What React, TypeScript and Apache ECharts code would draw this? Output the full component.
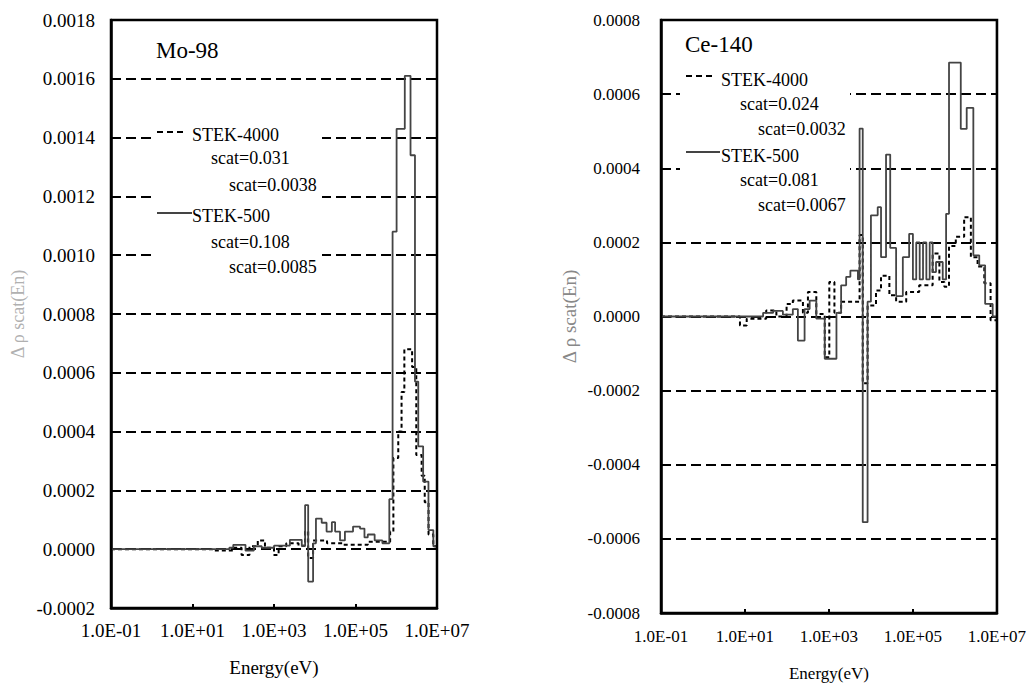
import React, { useEffect, useRef } from "react";
import * as echarts from "echarts";

// ---------- Data ----------
// Mo-98 (left panel): group lower-boundary energies (eV) and step values
const moStek500E = [0.1, 80, 100, 200, 320, 500, 1000, 2450, 4800, 5800, 6900, 9100, 10700, 14800, 19500, 26300, 31600, 41700, 55000, 87000, 129000, 166000, 200000, 295000, 457000, 676000, 813000, 1020000, 1620000, 2240000, 2880000, 3470000, 4570000, 6170000, 8130000];
const moStek500V = [0, 0.000005, 0.000015, -0.000005, 0.00001, 0.000005, 0.000012, 0.000032, 0.000012, 0.00015, -0.00011, 0.00002, 0.000104, 0.00009, 0.00006, 0.000092, 0.00006, 0.00003, 0.00006, 0.000077, 0.00007, 0.00004, 0.00005, 0.00003, 0.00002, 0.00017, 0.00108, 0.00143, 0.00161, 0.00134, 0.00057, 0.00035, 0.00023, 0.000065, 0.00001];
const moStek4000E = [0.1, 30, 100, 160, 250, 400, 600, 1000, 1300, 2000, 4000, 5800, 6900, 9100, 20000, 50000, 200000, 708000, 850000, 1120000, 1350000, 1580000, 2450000, 3100000, 4200000, 5000000, 6200000, 8100000];
const moStek4000V = [0, -0.000004, 0.000005, -0.00002, 0.00001, 0.00003, 0.000005, -0.00002, 0.00001, 0.00002, 0.000012, 0.00006, -0.00003, 0.00003, 0.00002, 0.000015, 0.000025, 0.00006, 0.00031, 0.0004, 0.000535, 0.00068, 0.00062, 0.00032, 0.00025, 0.00016, 0.00005, 0.00001];

// Ce-140 (right panel)
const ceStek500E = [0.1, 27, 47, 80, 138, 182, 263, 347, 500, 794, 1510, 1950, 2570, 3240, 4900, 5370, 6380, 8320, 10000, 14500, 17400, 22900, 28800, 39800, 57500, 81300, 100000, 120000, 145000, 174000, 209000, 251000, 295000, 355000, 513000, 617000, 724000, 1380000, 1910000, 2750000, 3800000, 5250000, 7940000];
const ceStek500V = [0, 0.00001, 0.000015, 0.000005, 0.00002, -0.000065, 0.00002, 0.000043, -0.000006, -0.000114, 0.00001, 0.000084, 0.000107, 0.000124, 0.0001, 0.000507, -0.000555, 0.00004, 0.000273, 0.000295, 0.00016, 0.000437, 0.000185, 0.000055, 0.00016, 0.000223, 0.0001, 0.0002, 0.0001, 0.0002, 0.0001, 0.0002, 0.00012, 0.000147, 0.0001, 0.000277, 0.000685, 0.000506, 0.000563, 0.000165, 0.000138, 0.000034, 0.0];
const ceStek4000E = [0.1, 7.6, 11, 32, 56, 98, 138, 240, 316, 500, 794, 1020, 1350, 1950, 5370, 6380, 8320, 13200, 17400, 27500, 39800, 69200, 141000, 295000, 427000, 562000, 724000, 1050000, 1660000, 2400000, 3470000, 5010000, 7080000];
const ceStek4000V = [0, -0.000024, -0.000006, 0.000016, 0.0, 0.000034, 0.000043, 0.00001, 0.000066, 0.000007, -0.00011, 0.000093, 0.00001, 0.00004, 0.00022, -0.00018, 0.00003, 0.00007, 0.00011, 0.000057, 0.00004, 0.000066, 0.000084, 0.00017, 0.000093, 0.00008, 0.00019, 0.000215, 0.000268, 0.00016, 0.000135, 0.00009, -0.00001];

const xTickLabels = ["1.0E-01", "1.0E+01", "1.0E+03", "1.0E+05", "1.0E+07"];
const moLegend = ["STEK-4000", "scat=0.031", "scat=0.0038", "STEK-500", "scat=0.108", "scat=0.0085"];
const ceLegend = ["STEK-4000", "scat=0.024", "scat=0.0032", "STEK-500", "scat=0.081", "scat=0.0067"];
const panelTitles = ["Mo-98", "Ce-140"];
const yTitle = "Δ ρ scat(En)";
const xTitle = "Energy(eV)";

const E_MAX = 1e7;
const FONT = "Liberation Serif";

function steps(E: number[], V: number[]) {
  const d: number[][] = E.map((e, i) => [e, V[i]]);
  d.push([E_MAX, V[V.length - 1]]);
  return d;
}

function logLabel(v: number) {
  const p = Math.round(Math.log10(v));
  const idx = (p + 1) / 2;
  if (Number.isInteger(idx) && idx >= 0 && idx < xTickLabels.length) return xTickLabels[idx];
  return "";
}

const GRIDS = [
  { left: 111, top: 20, width: 326, height: 588 },
  { left: 661, top: 20, width: 336, height: 593 },
];

export default function App() {
  const ref = useRef<HTMLDivElement>(null);
  useEffect(() => {
    if (!ref.current) return;
    const chart = echarts.init(ref.current, null, { renderer: "svg" });
    const split = { show: true, lineStyle: { color: "#000", width: 1.8, type: [10, 5] } };
    const axLine = () => ({ show: true, onZero: false, lineStyle: { color: "#000", width: 2.5 } });
    const makeX = (gi: number, fs: number, gap: number, margin: number) => [
      {
        type: "log", gridIndex: gi, logBase: 10, min: 0.1, max: E_MAX,
        axisLine: axLine(), axisTick: { show: false }, splitLine: { show: false },
        axisLabel: { formatter: logLabel, color: "#000", fontFamily: FONT, fontSize: fs, margin, showMinLabel: true, showMaxLabel: true },
        name: xTitle, nameLocation: "middle", nameGap: gap,
        nameTextStyle: { color: "#000", fontFamily: FONT, fontSize: fs },
      },
      {
        type: "value", gridIndex: gi, position: "bottom", min: 0, max: 8, interval: 2,
        axisLine: { show: false, onZero: false },
        axisTick: { show: true, inside: true, length: 4, lineStyle: { color: "#000", width: 2 } },
        axisLabel: { show: false }, splitLine: { show: false },
      },
    ];
    const makeY = (gi: number, min: number, max: number, fs: number, margin: number, nameGap: number, nameColor: string, nameSize: number) => ({
      type: "value", gridIndex: gi, min, max, interval: 0.0002,
      axisLine: axLine(), axisTick: { show: false }, splitLine: split,
      axisLabel: { formatter: (v: number) => v.toFixed(4), color: "#000", fontFamily: FONT, fontSize: fs, margin },
      name: yTitle, nameLocation: "middle", nameRotate: 90, nameGap,
      nameTextStyle: { color: nameColor, fontFamily: FONT, fontSize: nameSize },
    });
    const solid = { color: "#444", width: 1.8, type: "solid" };
    const dashed = { color: "#000", width: 2, type: [4, 3] };
    const ser = (name: string, data: number[][], xi: number, yi: number, ls: any) => ({
      name, type: "line", step: "end", data, xAxisIndex: xi, yAxisIndex: yi,
      symbol: "none", lineStyle: ls, z: 3,
    });

    const frame = (g: any) => ({
      type: "rect", silent: true, z: 20,
      shape: { x: g.left, y: g.top, width: g.width, height: g.height },
      style: { fill: "none", stroke: "#000", lineWidth: 2.5 },
    });

    const legendBlock = (x0: number, rect: number[], titleY: number, lines: string[], ys: number[], sampleY: number[], sampleW: number[], title: string) => {
      const els: any[] = [
        { type: "rect", shape: { x: rect[0], y: rect[1], width: rect[2], height: rect[3] }, style: { fill: "#fff" }, z: 10 },
        { type: "text", x: x0, y: titleY, style: { text: title, fontFamily: FONT, fontSize: 23, fill: "#000", verticalAlign: "middle" }, z: 11 },
        { type: "line", shape: { x1: x0 + 1, y1: sampleY[0], x2: x0 + sampleW[0], y2: sampleY[0] }, style: { stroke: "#000", lineWidth: 2, lineDash: [6, 4] }, z: 11 },
        { type: "line", shape: { x1: x0 + 1, y1: sampleY[1], x2: x0 + sampleW[1], y2: sampleY[1] }, style: { stroke: "#444", lineWidth: 2 }, z: 11 },
      ];
      const offs = [36, 55, 73, 36, 55, 73];
      lines.forEach((t, i) => {
        els.push({ type: "text", x: x0 + offs[i], y: ys[i], style: { text: t, fontFamily: FONT, fontSize: 18, fill: "#000", verticalAlign: "middle" }, z: 11 });
      });
      return els;
    };

    chart.setOption({
      animation: false,
      backgroundColor: "#fff",
      textStyle: { fontFamily: FONT },
      grid: GRIDS.map((g) => ({ ...g, show: true, borderColor: "#000", borderWidth: 2, backgroundColor: "transparent" })),
      xAxis: [...makeX(0, 19, 50, 13), ...makeX(1, 17, 52, 15)],
      yAxis: [
        makeY(0, -0.0002, 0.0018, 19, 16, 84, "#b0b0b0", 18),
        makeY(1, -0.0008, 0.0008, 17, 21, 82, "#888", 19),
      ],
      series: [
        ser("STEK-4000", steps(moStek4000E, moStek4000V), 0, 0, dashed),
        ser("STEK-500", steps(moStek500E, moStek500V), 0, 0, solid),
        ser("STEK-4000", steps(ceStek4000E, ceStek4000V), 2, 1, dashed),
        ser("STEK-500", steps(ceStek500E, ceStek500V), 2, 1, solid),
      ],
      graphic: [
        frame(GRIDS[0]),
        frame(GRIDS[1]),
        ...legendBlock(156, [152, 118, 170, 155], 50, moLegend, [135, 158, 185, 216, 242, 267], [132, 213], [29, 36], panelTitles[0]),
        ...legendBlock(685, [680, 58, 170, 158], 44, ceLegend, [80, 104, 129, 156, 180, 205], [76, 152], [30, 35], panelTitles[1]),
      ],
    });
    return () => chart.dispose();
  }, []);
  return <div ref={ref} style={{ position: "fixed", left: 0, top: 0, width: 1029, height: 687, background: "#fff" }} />;
}
